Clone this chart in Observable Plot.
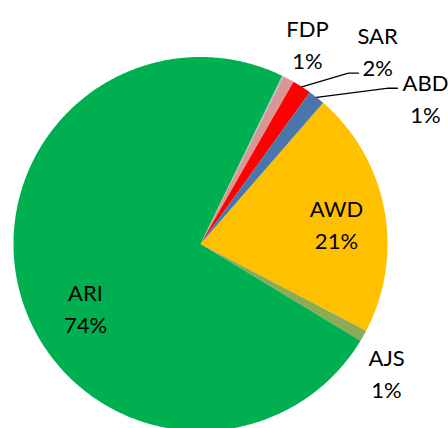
<!DOCTYPE html>
<html>
<head>
<meta charset="utf-8">
<script src="https://cdn.jsdelivr.net/npm/d3@7"></script>
<script src="https://cdn.jsdelivr.net/npm/@observablehq/plot@0.6"></script>
<style>
  html, body { margin: 0; padding: 0; background: #fff; }
  #chart svg { display: block; }
</style>
</head>
<body>
<div id="chart"></div>
<script>
// ---- data ----
const names = ["AWD", "AJS", "ARI", "OTH1", "OTH2", "FDP", "SAR", "ABD"];
const values = [21.3, 0.97, 73.54, 0.07, 0.07, 0.95, 1.65, 1.45];
const pctLabels = ["21%", "1%", "74%", "", "", "1%", "2%", "1%"];
const colors = ["#FFC000", "#8DAA55", "#00B050", "#A9B8D6", "#A5A5A5", "#D99694", "#FF0000", "#4A76AC"];

// ---- layout (pie-radius units, relative to the pie centre) ----
const W = 448, H = 428, R = 187, CX = 200, CY = 243.5;
const startDeg = 41;
const labelPos = {
  FDP: [0.572, 1.078],
  SAR: [0.947, 1.040],
  ABD: [1.203, 0.789],
  AWD: [0.727, 0.115],
  ARI: [-0.615, -0.334],
  AJS: [0.995, -0.682]
};
const leaderBends = {
  SAR: [[0.791, 0.914], [0.845, 0.914]],
  ABD: [[1.005, 0.833], [1.053, 0.833]]
};

// ---- build geometry from data ----
const data = names.map((n, i) => ({name: n, value: values[i], pct: pctLabels[i]}));
const toRad = Math.PI / 180;
const arcs = d3.pie().sort(null).value(d => d.value)
  .startAngle(startDeg * toRad).endAngle(startDeg * toRad + 2 * Math.PI)(data);

const slicePts = [];
for (const a of arcs) {
  slicePts.push({name: a.data.name, x: 0, y: 0});
  const n = Math.max(2, Math.ceil((a.endAngle - a.startAngle) / (0.4 * toRad)));
  for (let k = 0; k <= n; k++) {
    const t = a.startAngle + (a.endAngle - a.startAngle) * k / n;
    slicePts.push({name: a.data.name, x: Math.sin(t), y: Math.cos(t)});
  }
}

const labels = arcs.filter(a => labelPos[a.data.name]).map(a => ({
  x: labelPos[a.data.name][0],
  y: labelPos[a.data.name][1],
  text: a.data.name + "\n" + a.data.pct
}));

const leaderPts = [];
for (const a of arcs) {
  const b = leaderBends[a.data.name];
  if (!b) continue;
  const m = (a.startAngle + a.endAngle) / 2;
  leaderPts.push({name: a.data.name, x: Math.sin(m), y: Math.cos(m)});
  for (const p of b) leaderPts.push({name: a.data.name, x: p[0], y: p[1]});
}

const chart = Plot.plot({
  width: W,
  height: H,
  margin: 0,
  style: {background: "#fff"},
  x: {domain: [-CX / R, (W - CX) / R], axis: null},
  y: {domain: [-(H - CY) / R, CY / R], axis: null},
  color: {domain: names, range: colors},
  marks: [
    Plot.line(slicePts, {x: "x", y: "y", z: "name", fill: "name", stroke: "none", curve: "linear-closed"}),
    Plot.line(leaderPts, {x: "x", y: "y", z: "name", stroke: "#000", strokeWidth: 1.3}),
    Plot.text(labels, {x: "x", y: "y", text: "text", fontSize: 22, fontFamily: "Lato", lineHeight: 1.45, fill: "#000", textAnchor: "middle"})
  ]
});
document.getElementById("chart").appendChild(chart);
</script>
</body>
</html>
